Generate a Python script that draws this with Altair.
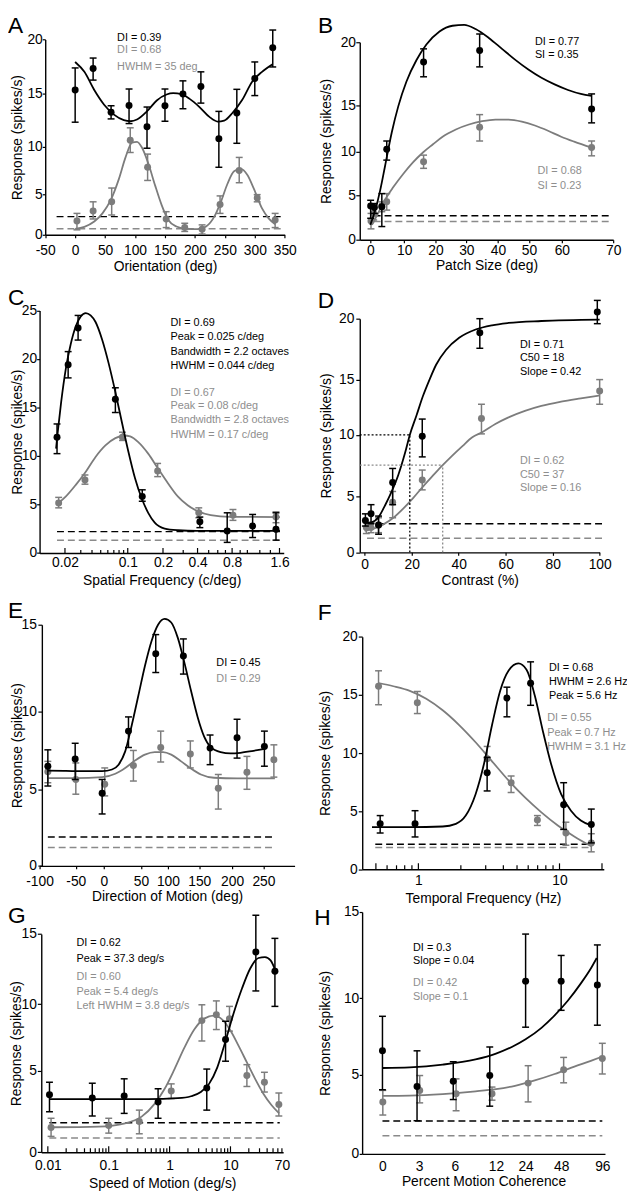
import altair as alt
import pandas as pd

# ---------------------------------------------------------------- data
# Panel A : orientation
A_x_blk = [0, 30, 60, 90, 120, 150, 180, 210, 240, 270, 300, 330]
A_y_blk = [15.36, 17.33, 13.26, 13.91, 11.90, 13.88, 15.00, 15.67, 10.78, 13.20, 16.42, 19.24]
A_hi_blk = [17.39, 18.30, 13.88, 15.45, 13.76, 15.45, 16.20, 17.03, 13.35, 15.42, 17.94, 20.88]
A_lo_blk = [12.33, 16.27, 12.64, 12.20, 9.86, 12.42, 13.60, 14.13, 7.85, 10.34, 14.84, 17.48]
A_x_gry = [3, 30, 61, 92, 121, 152, 183, 212, 242, 274, 304, 334]
A_y_gry = [1.71, 2.93, 4.07, 10.62, 7.85, 1.95, 0.89, 0.69, 3.74, 7.50, 4.55, 1.83]
A_hi_gry = [2.64, 4.07, 5.66, 11.80, 9.24, 2.85, 1.42, 1.22, 4.80, 8.89, 4.96, 2.64]
A_lo_gry = [0.61, 1.95, 2.44, 9.41, 6.46, 0.89, 0.41, 0.09, 2.64, 6.22, 4.07, 0.89]
A_fit_x_blk = [0, 15.4, 31.9, 48.4, 64.8, 81.3, 92.3, 103.3, 119.8, 136.3, 152.7, 163.7, 177.5,
               191.2, 207.7, 224.2, 237.9, 248.9, 262.6, 279.1, 295.6, 312.1, 329.7]
A_fit_y_blk = [17.94, 17.03, 15.36, 13.98, 13.04, 12.52, 12.42, 12.58, 13.35, 14.38, 14.94, 15.06, 14.97,
               14.53, 13.76, 12.83, 12.39, 12.48, 13.20, 14.44, 16.12, 17.03, 17.73]
A_fit_x_gry = [0, 15.4, 31.9, 45.6, 59.3, 73.1, 84.1, 95.1, 103.3, 111.5, 122.5, 133.5, 144.5, 155.5,
               169.2, 185.7, 204.9, 218.7, 232.4, 243.4, 254.4, 265.4, 276.4, 287.4, 298.4, 312.1, 323.1, 334.1]
A_fit_y_gry = [0.73, 0.98, 1.63, 2.64, 4.27, 6.63, 8.89, 10.40, 10.47, 9.93, 8.19, 5.94, 3.66, 1.83,
               1.02, 0.73, 0.69, 1.02, 2.24, 4.07, 6.11, 7.43, 7.67, 7.05, 5.59, 3.25, 2.03, 1.30]
A_base_x = [-31, 345]
A_base_blk, A_base_gry = 2.24, 0.73
A_txt_x = 70
A_txt_blk = ["DI = 0.39"]
A_txt_blk_y = [20.12]
A_txt_gry = ["DI = 0.68", "HWHM = 35 deg"]
A_txt_gry_y = [19.0, 17.48]
A_xticks = [-50, 0, 50, 100, 150, 200, 250, 300, 350]
A_yticks = [0, 5, 10, 15, 20]

# Panel B : patch size
B_x_blk = [0.1, 1.2, 3.4, 4.85, 16.2, 34.2, 65.8]
B_y_blk = [3.78, 3.63, 3.70, 10.25, 18.45, 19.35, 14.64]
B_hi_blk = [4.44, 4.07, 5.19, 11.15, 19.48, 20.65, 15.93]
B_lo_blk = [2.41, 2.96, 1.48, 9.02, 17.28, 18.06, 13.13]
B_x_gry = [0.2, 1.0, 3.4, 4.85, 16.2, 34.2, 65.8]
B_y_gry = [2.11, 2.96, 3.78, 4.26, 8.83, 12.66, 10.43]
B_hi_gry = [2.96, 3.52, 4.26, 5.19, 9.59, 14.03, 11.15]
B_lo_gry = [1.22, 2.22, 3.15, 3.33, 8.08, 11.15, 9.51]
B_fit_x_blk = [0, 1.46, 2.91, 4.37, 6.31, 8.25, 10.7, 13.9, 17.1, 21.3, 25.5, 29.3, 32.9, 37.1, 41.3,
               45.5, 49.8, 53.8, 57.8, 61.2, 63.7, 65.8]
B_fit_y_blk = [1.67, 3.33, 5.56, 8.38, 12.05, 14.93, 16.89, 18.58, 19.82, 20.85, 21.30, 21.37, 21.04,
               20.34, 19.48, 18.63, 17.85, 17.20, 16.68, 16.24, 15.93, 15.78]
B_fit_x_gry = [0.49, 1.94, 3.88, 6.8, 9.7, 12.8, 16.0, 19.2, 22.3, 26.6, 30.8, 35.0, 39.2, 43.4, 47.7,
               51.8, 55.8, 59.8, 62.4, 65.8]
B_fit_y_gry = [1.67, 2.70, 4.19, 5.94, 7.44, 8.76, 9.89, 10.79, 11.62, 12.41, 12.95, 13.31, 13.49, 13.49,
               13.27, 12.84, 12.27, 11.62, 11.08, 10.43]
B_base_x = [1, 69.8]
B_base_blk, B_base_gry = 2.70, 2.04
B_txt_x = 51.8
B_txt_blk = ["DI = 0.77", "SI = 0.35"]
B_txt_blk_y = [20.0, 18.96]
B_txt_gry = ["DI = 0.68", "SI = 0.23"]
B_txt_gry_y = [7.82, 6.0]
B_xticks = [0, 10, 20, 30, 40, 50, 60, 70]
B_yticks = [0, 5, 10, 15, 20]

# Panel C : spatial frequency
C_x_blk = [0.0163, 0.0217, 0.028, 0.0728, 0.133, 0.419, 0.725, 1.08, 1.52]
C_y_blk = [11.94, 19.40, 23.20, 15.84, 5.83, 3.22, 2.27, 2.78, 2.44]
C_hi_blk = [13.30, 20.76, 24.49, 17.03, 6.51, 3.70, 4.14, 3.97, 4.14]
C_lo_blk = [10.24, 18.05, 21.95, 14.48, 5.33, 2.61, 1.09, 1.59, 1.32]
C_x_gry = [0.017, 0.0334, 0.0874, 0.18, 0.41, 0.81, 1.52]
C_y_gry = [5.16, 7.53, 11.94, 8.45, 4.14, 3.90, 3.70]
C_hi_gry = [5.73, 8.04, 12.45, 9.23, 4.65, 4.48, 4.24]
C_lo_gry = [4.65, 7.09, 11.60, 7.87, 3.63, 3.36, 3.12]
C_fit_x_blk = [0.0159, 0.0166, 0.0181, 0.0205, 0.0232, 0.0264, 0.0300, 0.0341, 0.0386, 0.0438, 0.0518,
               0.0612, 0.0728, 0.0864, 0.1014, 0.1154, 0.1312, 0.1495, 0.17, 0.207, 0.269, 0.4, 0.8, 1.61]
C_fit_y_blk = [10.75, 12.45, 15.50, 19.06, 21.54, 23.37, 24.39, 24.73, 24.49, 23.81, 22.01, 19.57, 16.59,
               13.40, 10.41, 7.70, 5.66, 4.14, 3.12, 2.51, 2.34, 2.27, 2.27, 2.27]
C_fit_x_gry = [0.017, 0.0205, 0.0264, 0.0341, 0.0438, 0.0564, 0.0728, 0.0907, 0.1048, 0.123, 0.1495,
               0.181, 0.2208, 0.269, 0.328, 0.4, 0.521, 0.774, 1.61]
C_fit_y_gry = [5.16, 5.83, 7.02, 8.38, 9.90, 11.09, 11.84, 12.11, 12.01, 11.43, 10.24, 8.72, 7.19, 5.83,
               4.92, 4.31, 3.90, 3.73, 3.70]
C_base_x = [0.0163, 1.61]
C_base_blk, C_base_gry = 2.20, 1.32
C_txt_x = 0.232
C_txt_blk = ["DI = 0.69", "Peak = 0.025 c/deg", "Bandwidth = 2.2 octaves", "HWHM = 0.044 c/deg"]
C_txt_blk_y = [23.74, 22.29, 20.76, 19.23]
C_txt_gry = ["DI = 0.67", "Peak = 0.08 c/deg", "Bandwidth = 2.8 octaves", "HWHM = 0.17 c/deg"]
C_txt_gry_y = [16.52, 15.16, 13.70, 12.11]
C_xticks = [0.02, 0.1, 0.2, 0.4, 0.8, 1.6]
C_minor = [0.03, 0.04, 0.05, 0.06, 0.07, 0.08, 0.09, 0.3, 0.5, 0.6, 0.7, 0.9, 1.0, 1.2, 1.4]
C_yticks = [0, 5, 10, 15, 20, 25]

# Panel D : contrast
D_x_blk = [0.3, 2.7, 5.9, 11.9, 24.5, 49, 99]
D_y_blk = [2.85, 3.44, 2.44, 6.12, 9.89, 18.84, 20.54]
D_hi_blk = [3.44, 4.26, 3.24, 7.27, 11.43, 20.0, 21.5]
D_lo_blk = [2.35, 2.56, 1.62, 4.26, 8.21, 17.57, 19.59]
D_x_gry = [0.7, 2.7, 5.9, 11.9, 24.5, 49.7, 100]
D_y_gry = [2.21, 2.21, 2.44, 4.47, 6.34, 11.49, 13.96]
D_hi_gry = [2.65, 2.65, 3.09, 5.40, 7.14, 12.77, 15.0]
D_lo_gry = [1.68, 1.76, 1.76, 3.09, 5.53, 10.09, 12.77]
D_fit_x_blk = [0, 3.1, 5.9, 8.7, 11.5, 14.3, 17.1, 19.2, 22.0, 24.8, 27.6, 30.4, 34.6, 40.2, 47.2, 54.2,
               61.2, 75.2, 100]
D_fit_y_blk = [2.65, 2.71, 3.15, 4.21, 5.40, 6.74, 8.48, 10.0, 11.73, 13.51, 15.0, 16.22, 17.43, 18.43,
               19.11, 19.46, 19.65, 19.81, 19.92]
D_fit_x_gry = [0, 3.8, 8, 12.2, 16.4, 20.6, 24.8, 29, 33.2, 37.4, 41.6, 45.8, 50, 55.6, 61.2, 68.2, 75.2,
               83.6, 92, 100]
D_fit_y_gry = [1.91, 2.12, 2.50, 3.09, 3.91, 4.85, 5.80, 6.68, 7.54, 8.34, 9.09, 9.81, 10.24, 10.98, 11.58,
               12.17, 12.62, 13.0, 13.3, 13.57]
D_base_x = [1, 102]
D_base_blk, D_base_gry = 2.56, 1.26
D_c50_x = [19.2, 33.2]
D_c50_y = [10.0, 7.54]
D_txt_x = 66.1
D_txt_blk = ["DI = 0.71", "C50 = 18", "Slope = 0.42"]
D_txt_blk_y = [17.84, 16.76, 15.62]
D_txt_gry = ["DI = 0.62", "C50 = 37", "Slope = 0.16"]
D_txt_gry_y = [7.86, 6.74, 5.67]
D_xticks = [0, 20, 40, 60, 80, 100]
D_yticks = [0, 5, 10, 15, 20]

# Panel E : direction of motion
E_x_blk = [-88.6, -50.9, -2.9, 33.2, 77.4, 124.7, 166.5, 207.9, 251.6]
E_y_blk = [6.48, 6.94, 4.74, 8.73, 13.33, 13.19, 7.64, 8.31, 7.74]
E_hi_blk = [7.53, 7.95, 5.63, 9.64, 14.43, 14.18, 8.48, 9.49, 8.73]
E_lo_blk = [5.21, 5.63, 3.39, 7.68, 12.24, 12.15, 6.58, 7.0, 6.48]
E_x_gry = [-88.6, -50, 1.3, 39.8, 86.6, 135.8, 179, 223.7, 266.8]
E_y_gry = [6.12, 5.63, 5.32, 6.52, 7.68, 7.26, 5.06, 6.10, 6.90]
E_hi_gry = [6.79, 6.69, 6.37, 7.49, 8.73, 8.10, 5.95, 7.11, 7.85]
E_lo_gry = [5.42, 4.68, 4.57, 5.53, 6.75, 6.37, 3.71, 5.0, 5.78]
E_fit_x_blk = [-88.6, -63.6, -32.4, -2.9, 11.1, 19.9, 28.8, 37.6, 46.5, 57.3, 69.5, 81.7, 93.9, 105.3,
               115.8, 126.3, 136.8, 147.4, 157.5, 167.5, 182.5, 197.5, 213.2, 234.2, 252.6]
E_fit_y_blk = [6.20, 6.18, 6.16, 6.16, 6.27, 6.58, 7.43, 9.11, 10.91, 12.62, 14.05, 15.0, 15.34, 15.13,
               14.24, 12.81, 11.20, 9.64, 8.38, 7.70, 7.38, 7.30, 7.34, 7.47, 7.59]
E_fit_x_gry = [-88.6, -50, -2.9, 15.5, 28.8, 42.0, 57.3, 75.6, 90.9, 105.3, 121.1, 136.8, 152.5, 172.5,
               207.9, 268.4]
E_fit_y_gry = [5.72, 5.72, 5.78, 6.0, 6.37, 6.84, 7.22, 7.38, 7.38, 7.22, 6.79, 6.33, 5.95, 5.74, 5.70, 5.70]
E_base_x = [-88.6, 268.4]
E_base_blk, E_base_gry = 1.89, 1.20
E_txt_x = 176
E_txt_blk = ["DI = 0.45"]
E_txt_blk_y = [12.76]
E_txt_gry = ["DI = 0.29"]
E_txt_gry_y = [11.86]
E_xticks = [-100, -50, 0, 50, 100, 150, 200, 250]
E_yticks = [0, 5, 10, 15]

# Panel F : temporal frequency
F_x_blk = [0.536, 0.947, 3.07, 4.24, 6.24, 10.7, 16.8]
F_y_blk = [3.91, 3.91, 8.30, 14.73, 16.0, 5.55, 3.85]
F_hi_blk = [4.62, 5.04, 9.63, 15.67, 17.85, 7.45, 5.18]
F_lo_blk = [3.12, 2.78, 6.74, 13.12, 14.11, 3.43, 2.27]
F_x_gry = [0.522, 0.983, 3.07, 4.54, 6.97, 11.1, 16.8]
F_y_gry = [15.75, 14.33, 9.52, 7.45, 4.25, 3.12, 2.27]
F_hi_gry = [17.08, 15.30, 10.57, 8.02, 4.62, 4.05, 3.06]
F_lo_gry = [14.16, 13.40, 8.30, 6.60, 3.77, 2.07, 1.50]
F_fit_x_blk = [0.469, 0.869, 1.486, 1.843, 2.166, 2.543, 2.909, 3.326, 3.804, 4.35, 5.11, 5.84, 6.68,
               7.64, 8.74, 10.27, 12.06, 14.16, 16.8]
F_fit_y_blk = [3.63, 3.63, 3.68, 3.91, 4.62, 6.46, 9.01, 12.41, 15.38, 17.08, 17.71, 17.17, 14.96, 11.84,
               9.01, 6.46, 5.04, 4.19, 3.77]
F_fit_x_gry = [0.522, 0.665, 0.869, 1.137, 1.487, 1.945, 2.543, 3.326, 4.35, 5.69, 7.44, 9.73, 12.72, 16.8]
F_fit_y_gry = [16.03, 15.75, 15.35, 14.67, 13.68, 12.41, 10.93, 9.29, 7.65, 6.18, 4.90, 3.77, 2.83, 1.98]
F_base_x = [0.495, 16.6]
F_base_blk, F_base_gry = 2.15, 1.87
F_txt_x_blk, F_txt_x_gry = 8.42, 8.19
F_txt_blk = ["DI = 0.68", "HWHM = 2.6 Hz", "Peak = 5.6 Hz"]
F_txt_blk_y = [17.28, 16.15, 14.87]
F_txt_gry = ["DI = 0.55", "Peak = 0.7 Hz", "HWHM = 3.1 Hz"]
F_txt_gry_y = [13.03, 11.76, 10.51]
F_xticks = [1, 10]
F_major = [0.5, 1, 10, 20]
F_minor = [0.6, 0.7, 0.8, 0.9, 2, 3, 4, 5, 6, 7, 8, 9]
F_yticks = [0, 5, 10, 15, 20]

# Panel G : speed of motion
G_x_blk = [0.01064, 0.0537, 0.1795, 0.647, 4.08, 8.3, 26.1, 53.7]
G_y_blk = [3.53, 3.33, 3.45, 3.08, 3.93, 7.35, 13.71, 12.35]
G_hi_blk = [4.29, 4.23, 4.50, 3.89, 5.12, 8.71, 16.34, 14.69]
G_lo_blk = [2.48, 2.22, 2.38, 2.08, 2.58, 5.71, 10.94, 9.83]
G_x_gry = [0.0113, 0.1, 0.318, 1.064, 3.39, 5.86, 9.63, 18.6, 36.1, 62.3]
G_y_gry = [1.51, 1.63, 1.88, 3.75, 8.76, 9.20, 8.91, 4.70, 4.29, 2.92]
G_hi_gry = [2.08, 2.08, 2.58, 4.19, 9.95, 10.23, 9.83, 5.45, 4.90, 3.63]
G_lo_gry = [0.97, 1.17, 1.13, 3.29, 7.23, 8.09, 7.97, 4.03, 3.69, 2.22]
G_fit_x_blk = [0.01064, 0.0689, 0.445, 1.365, 2.245, 3.26, 4.45, 6.08, 8.3, 11.3, 15.5, 21.1, 28.8, 36.9,
               45.6, 55.7]
G_fit_y_blk = [3.25, 3.25, 3.25, 3.31, 3.43, 3.69, 4.19, 5.25, 7.23, 9.33, 11.13, 12.54, 13.29, 13.36,
               13.12, 12.30]
G_fit_x_gry = [0.0113, 0.0689, 0.186, 0.347, 0.571, 0.83, 1.205, 1.75, 2.54, 3.7, 5.37, 7.33, 10, 13.6,
               18.6, 25.4, 34.7, 47.4, 63.1]
G_fit_y_gry = [1.53, 1.57, 1.77, 2.18, 2.98, 3.89, 5.12, 6.73, 8.09, 8.91, 9.13, 8.84, 8.02, 6.86, 5.62,
               4.50, 3.59, 2.88, 2.38]
G_base_x = [0.0106, 64.5]
G_base_blk, G_base_gry = 1.81, 0.87
G_txt_x = 0.0295
G_txt_blk = ["DI = 0.62", "Peak = 37.3 deg/s"]
G_txt_blk_y = [14.34, 13.24]
G_txt_gry = ["DI = 0.60", "Peak = 5.4 deg/s", "Left HWHM = 3.8 deg/s"]
G_txt_gry_y = [11.95, 10.85, 9.83]
G_xticks = [0.01, 0.1, 1, 10, 70]
G_major = [0.01, 0.1, 1, 10]
G_minor = [0.02, 0.03, 0.04, 0.05, 0.06, 0.07, 0.08, 0.09, 0.2, 0.3, 0.4, 0.5, 0.6, 0.7, 0.8, 0.9,
           2, 3, 4, 5, 6, 7, 8, 9, 20, 30, 40, 50, 60, 70]
G_yticks = [0, 5, 10, 15]

# Panel H : motion coherence
H_x_blk = [0, 2.84, 5.86, 11.09, 24, 48, 90.2]
H_y_blk = [6.57, 4.27, 4.60, 4.96, 10.99, 10.99, 10.76]
H_hi_blk = [8.82, 6.57, 5.86, 6.82, 13.72, 12.48, 13.09]
H_lo_blk = [4.06, 2.10, 3.44, 3.02, 8.11, 9.21, 8.24]
H_x_gry = [0.03, 3.06, 6.17, 11.42, 25.7, 50.9, 96]
H_y_gry = [3.29, 4.02, 3.81, 3.81, 4.48, 5.34, 6.07]
H_hi_gry = [4.02, 4.96, 4.75, 4.23, 5.60, 6.14, 7.06]
H_lo_gry = [2.46, 3.23, 2.73, 3.40, 3.29, 4.50, 5.06]
H_fit_x_blk = [0, 2.24, 4.98, 9.02, 12, 18.4, 24, 34.7, 43.6, 55.7, 71.0, 82.6, 89.5]
H_fit_y_blk = [5.45, 5.49, 5.67, 6.01, 6.39, 6.82, 7.32, 8.07, 8.88, 9.83, 10.86, 11.72, 12.33]
H_fit_x_gry = [0, 2.24, 4.98, 9.02, 12, 19.7, 30.2, 43.6, 63.4, 82.6, 96]
H_fit_y_gry = [3.67, 3.69, 3.79, 3.96, 4.10, 4.31, 4.65, 5.06, 5.54, 5.92, 6.20]
H_base_x = [0, 96]
H_base_blk, H_base_gry = 2.08, 1.15
H_txt_x = 2.51
H_txt_blk = ["DI = 0.3", "Slope = 0.04"]
H_txt_blk_y = [12.92, 12.14]
H_txt_gry = ["DI = 0.42", "Slope = 0.1"]
H_txt_gry_y = [10.86, 10.04]
H_xticks = [0, 3, 6, 12, 24, 48, 96]
H_yticks = [0, 5, 10, 15]

LETTERS = ["A", "B", "C", "D", "E", "F", "G", "H"]
RESP = "Response (spikes/s)"

# ---------------------------------------------------------------- style
FONT = "Liberation Sans"
INK = "#000000"
GREY = "#7c7c7c"
GREY_TXT = "#8e8e8e"
GREY_DASH = "#8a8a8a"
W, H = 627, 1191


def xaxis(title, values, axis_y, tick, lp, tp):
    kw = dict(orient="bottom", offset=axis_y - H, values=values, labelExpr="'' + datum.value",
              title=title, labelPadding=lp, titlePadding=tp)
    if tick:
        kw.update(ticks=True, tickSize=tick)
    else:
        kw.update(ticks=False, tickSize=0)
    return alt.Axis(**kw)


def yaxis(values, axis_x, tick, lp, tp):
    return alt.Axis(orient="left", offset=-axis_x, values=values, labelExpr="'' + datum.value",
                    title=RESP, ticks=True, tickSize=tick, labelPadding=lp, titlePadding=tp)


def panel(xs, ys, xa, ya, blk, gry, base, texts, extra=None):
    def X(f="x"):
        return alt.X(f"{f}:Q", scale=xs, axis=xa)

    def Y(f="y"):
        return alt.Y(f"{f}:Q", scale=ys, axis=ya)

    layers = []
    bx, b_blk, b_gry = base
    bd = pd.DataFrame({"x": [bx[0], bx[0]], "x2": [bx[1], bx[1]], "y": [b_gry, b_blk],
                       "c": [GREY_DASH, INK]})
    layers.append(alt.Chart(bd).mark_rule(strokeDash=[7, 4], strokeWidth=1.5).encode(
        x=X(), x2="x2:Q", y=Y(), color=alt.Color("c:N", scale=None)))
    for (sx, sy, slo, shi, fx, fy), col in [(gry, GREY), (blk, INK)]:
        fit = pd.DataFrame({"x": fx, "y": fy})
        pts = pd.DataFrame({"x": sx, "y": sy, "lo": slo, "hi": shi})
        caps = pd.DataFrame({"x": list(sx) * 2, "y": list(slo) + list(shi)})
        layers.append(alt.Chart(fit).mark_line(color=col, strokeWidth=1.8, interpolate="monotone")
                      .encode(x=X(), y=Y()))
        layers.append(alt.Chart(pts).mark_rule(color=col, strokeWidth=1.5)
                      .encode(x=X(), y=Y("lo"), y2="hi:Q"))
        layers.append(alt.Chart(caps).mark_tick(color=col, orient="horizontal", size=7, thickness=1.5,
                                                opacity=1).encode(x=X(), y=Y()))
        layers.append(alt.Chart(pts).mark_circle(color=col, size=50, opacity=1).encode(x=X(), y=Y()))
    for tx, ty, tl, col in texts:
        td = pd.DataFrame({"x": [tx] * len(ty), "y": ty, "t": tl})
        layers.append(alt.Chart(td).mark_text(align="left", baseline="middle", fontSize=11, font=FONT,
                                              color=col).encode(x=X(), y=Y(), text="t:N"))
    if extra:
        layers.extend(extra(X, Y))
    return alt.layer(*layers)


def tick_rules(X, values, axis_y, length):
    d = pd.DataFrame({"x": values})
    return alt.Chart(d).mark_rule(color=INK, strokeWidth=1.2).encode(
        x=X(), y=alt.value(axis_y), y2=alt.value(axis_y - length))


# ---------------------------------------------------------------- panels
pA = panel(
    alt.Scale(type="linear", domain=[-50, 350], range=[37.7, 280.3], nice=False, zero=False),
    alt.Scale(type="linear", domain=[0, 5, 10, 15, 20], range=[222, 181, 133, 79.3, 24.3], nice=False, zero=False),
    xaxis("Orientation (deg)", A_xticks, 222, 3, 6, 2),
    yaxis(A_yticks, 37.7, 3, 0, 2.6),
    (A_x_blk, A_y_blk, A_lo_blk, A_hi_blk, A_fit_x_blk, A_fit_y_blk),
    (A_x_gry, A_y_gry, A_lo_gry, A_hi_gry, A_fit_x_gry, A_fit_y_gry),
    (A_base_x, A_base_blk, A_base_gry),
    [(A_txt_x, A_txt_blk_y, A_txt_blk, INK), (A_txt_x, A_txt_gry_y, A_txt_gry, GREY_TXT)])

pB = panel(
    alt.Scale(type="linear", domain=[-3.1, 0, 10, 20, 30, 40, 50, 60, 70],
              range=[356.3, 367, 401.3, 433, 464.3, 496.3, 527.7, 561, 613], nice=False, zero=False),
    alt.Scale(type="linear", domain=[0, 5, 10, 15, 20], range=[227, 182, 137.7, 91.3, 27], nice=False, zero=False),
    xaxis("Patch Size (deg)", B_xticks, 227, 3, 1, 1.2),
    yaxis(B_yticks, 356.3, 4, 0.3, 6.4),
    (B_x_blk, B_y_blk, B_lo_blk, B_hi_blk, B_fit_x_blk, B_fit_y_blk),
    (B_x_gry, B_y_gry, B_lo_gry, B_hi_gry, B_fit_x_gry, B_fit_y_gry),
    (B_base_x, B_base_blk, B_base_gry),
    [(B_txt_x, B_txt_blk_y, B_txt_blk, INK), (B_txt_x + 0.8, B_txt_gry_y, B_txt_gry, GREY_TXT)])

pC = panel(
    alt.Scale(type="log", domain=[0.0104, 0.02, 0.1, 0.2, 0.4, 0.8, 1.6, 1.7],
              range=[32, 57.7, 121.3, 157, 192, 227, 275, 279.3], nice=False),
    alt.Scale(type="linear", domain=[0, 25], range=[544.3, 298.7], nice=False, zero=False),
    xaxis("Spatial Frequency (c/deg)", C_xticks, 544.3, 0, 2.7, 4.5),
    yaxis(C_yticks, 32, 3, 0, -3),
    (C_x_blk, C_y_blk, C_lo_blk, C_hi_blk, C_fit_x_blk, C_fit_y_blk),
    (C_x_gry, C_y_gry, C_lo_gry, C_hi_gry, C_fit_x_gry, C_fit_y_gry),
    (C_base_x, C_base_blk, C_base_gry),
    [(C_txt_x, C_txt_blk_y, C_txt_blk, INK), (C_txt_x, C_txt_gry_y, C_txt_gry, GREY_TXT)],
    extra=lambda X, Y: [tick_rules(X, C_xticks, 544.3, 5), tick_rules(X, C_minor, 544.3, 3)])


def d_extra(X, Y):
    hd = pd.DataFrame({"x": [-2.1, -2.1], "x2": D_c50_x, "y": D_c50_y, "c": [INK, GREY_DASH]})
    vd = pd.DataFrame({"x": D_c50_x, "y": [0, 0], "y2": D_c50_y, "c": [INK, GREY_DASH]})
    return [
        alt.Chart(hd).mark_rule(strokeDash=[2, 2], strokeWidth=1.3).encode(
            x=X(), x2="x2:Q", y=Y(), color=alt.Color("c:N", scale=None)),
        alt.Chart(vd).mark_rule(strokeDash=[2, 2], strokeWidth=1.3).encode(
            x=X(), y=Y(), y2="y2:Q", color=alt.Color("c:N", scale=None)),
    ]


pD = panel(
    alt.Scale(type="linear", domain=[-2.1, 100], range=[356.3, 599.3], nice=False, zero=False),
    alt.Scale(type="linear", domain=[0, 5, 10, 15, 20], range=[543.7, 487, 424.7, 368.7, 307], nice=False, zero=False),
    xaxis("Contrast (%)", D_xticks, 543.7, 3, 2.6, 2.2),
    yaxis(D_yticks, 356.3, 4, 2, 4.7),
    (D_x_blk, D_y_blk, D_lo_blk, D_hi_blk, D_fit_x_blk, D_fit_y_blk),
    (D_x_gry, D_y_gry, D_lo_gry, D_hi_gry, D_fit_x_gry, D_fit_y_gry),
    (D_base_x, D_base_blk, D_base_gry),
    [(D_txt_x, D_txt_blk_y, D_txt_blk, INK), (D_txt_x, D_txt_gry_y, D_txt_gry, GREY_TXT)],
    extra=d_extra)

pE = panel(
    alt.Scale(type="linear", domain=[-100, -50, 0, 50, 100, 150, 200, 250, 300],
              range=[32, 68.7, 97, 134.7, 162, 193.7, 227, 258.7, 290.3], nice=False, zero=False),
    alt.Scale(type="linear", domain=[0, 5, 10, 15], range=[861.3, 783.7, 704.7, 617], nice=False, zero=False),
    xaxis("Direction of Motion (deg)", E_xticks, 861.3, 3, 5.5, 1.5),
    yaxis(E_yticks, 34.3, 4, 1.5, -3),
    (E_x_blk, E_y_blk, E_lo_blk, E_hi_blk, E_fit_x_blk, E_fit_y_blk),
    (E_x_gry, E_y_gry, E_lo_gry, E_hi_gry, E_fit_x_gry, E_fit_y_gry),
    (E_base_x, E_base_blk, E_base_gry),
    [(E_txt_x, E_txt_blk_y, E_txt_blk, INK), (E_txt_x, E_txt_gry_y, E_txt_gry, GREY_TXT)])

pF = panel(
    alt.Scale(type="log", domain=[0.4, 20.6], range=[358.8, 603.5], nice=False),
    alt.Scale(type="linear", domain=[0, 20], range=[864.7, 629.3], nice=False, zero=False),
    xaxis("Temporal Frequency (Hz)", F_xticks, 864.7, 0, 4, 4.8),
    yaxis(F_yticks, 358.8, 4, 1, 9.2),
    (F_x_blk, F_y_blk, F_lo_blk, F_hi_blk, F_fit_x_blk, F_fit_y_blk),
    (F_x_gry, F_y_gry, F_lo_gry, F_hi_gry, F_fit_x_gry, F_fit_y_gry),
    (F_base_x, F_base_blk, F_base_gry),
    [(F_txt_x_blk, F_txt_blk_y, F_txt_blk, INK), (F_txt_x_gry, F_txt_gry_y, F_txt_gry, GREY_TXT)],
    extra=lambda X, Y: [tick_rules(X, F_major, 864.7, 6), tick_rules(X, F_minor, 864.7, 4)])

pG = panel(
    alt.Scale(type="log", domain=[0.0078, 73.3], range=[33.7, 278.7], nice=False),
    alt.Scale(type="linear", domain=[0, 5, 10, 15], range=[1151.3, 1068.7, 1001.3, 930.3], nice=False, zero=False),
    xaxis("Speed of Motion (deg/s)", G_xticks, 1151.3, 0, 7, 4),
    yaxis(G_yticks, 33.7, 4, 1, -3),
    (G_x_blk, G_y_blk, G_lo_blk, G_hi_blk, G_fit_x_blk, G_fit_y_blk),
    (G_x_gry, G_y_gry, G_lo_gry, G_hi_gry, G_fit_x_gry, G_fit_y_gry),
    (G_base_x, G_base_blk, G_base_gry),
    [(G_txt_x, G_txt_blk_y, G_txt_blk, INK), (G_txt_x, G_txt_gry_y, G_txt_gry, GREY_TXT)],
    extra=lambda X, Y: [tick_rules(X, G_major, 1151.3, 6), tick_rules(X, G_minor, 1151.3, 4)])

pH = panel(
    alt.Scale(type="linear", domain=[-1.68, 0, 3, 6, 12, 24, 48, 96, 99.1],
              range=[358.7, 379.3, 416.3, 452.7, 494.3, 524.3, 560.3, 602, 604.7], nice=False, zero=False),
    alt.Scale(type="linear", domain=[0, 5, 10, 15], range=[1153, 1073, 995.3, 908], nice=False, zero=False),
    xaxis("Percent Motion Coherence", H_xticks, 1153, 0, 6, 1),
    yaxis(H_yticks, 358.7, 3, 0.4, 10.7),
    (H_x_blk, H_y_blk, H_lo_blk, H_hi_blk, H_fit_x_blk, H_fit_y_blk),
    (H_x_gry, H_y_gry, H_lo_gry, H_hi_gry, H_fit_x_gry, H_fit_y_gry),
    (H_base_x, H_base_blk, H_base_gry),
    [(H_txt_x, H_txt_blk_y, H_txt_blk, INK), (H_txt_x, H_txt_gry_y, H_txt_gry, GREY_TXT)])

# panel letters (pixel anchors of the label glyphs)
letter_pos = [(0, 18), (314, 18), (0, 293), (313.7, 296), (0, 610), (313.7, 612), (0, 919), (310.3, 921.3)]
letters = [
    alt.Chart(pd.DataFrame({"t": [ch]})).mark_text(
        align="left", baseline="alphabetic", fontSize=23, font=FONT, color=INK
    ).encode(x=alt.value(px), y=alt.value(py), text="t:N")
    for ch, (px, py) in zip(LETTERS, letter_pos)
]

chart = (
    alt.layer(pA, pB, pC, pD, pE, pF, pG, pH, *letters)
    .resolve_scale(x="independent", y="independent")
    .properties(width=W, height=H, padding=0, autosize=alt.AutoSizeParams(type="none"))
    .configure_view(stroke=None)
    .configure_axis(grid=False, domainColor=INK, domainWidth=1.4, tickColor=INK, tickWidth=1.2,
                    labelColor=INK, labelFont=FONT, labelFontSize=14, titleFont=FONT, titleFontSize=14,
                    titleFontWeight="normal", titleColor=INK, labelFlush=False, labelOverlap=False)
)

chart.save("out.html", embed_options={"renderer": "svg", "actions": False})
